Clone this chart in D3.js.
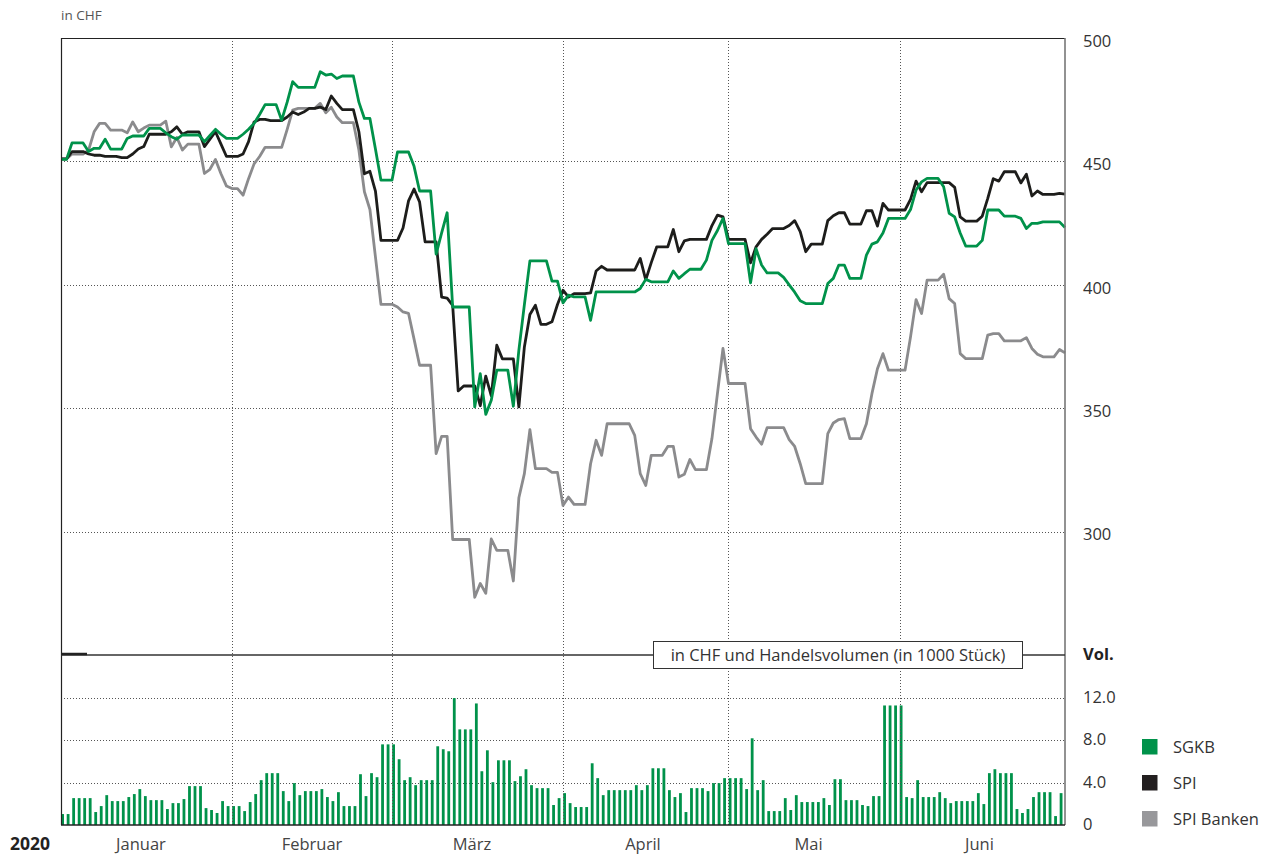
<!DOCTYPE html>
<html>
<head>
<meta charset="utf-8">
<script src="https://cdn.jsdelivr.net/npm/d3@7"></script>
<style>
  body { margin: 0; background: #fff; }
  text { font-family: "Open Sans", "Noto Sans", sans-serif; }
</style>
</head>
<body>
<div id="chart"></div>
<script>
// daily values, 1 Jan 2020 onwards
var startDate = new Date(2020, 0, 1);

var sgkb = [
  450.8,450.8,457.5,457.5,457.5,454,455.3,455.3,459,455,
  455,455,459.3,460.3,460.3,460.3,463.4,463.4,463.4,461.6,
  460,459,460.7,460.7,460.7,460.7,458,460.5,463,461,
  459.3,459.3,459.3,461,463,465.4,469,473,473,473,
  466.7,474,482.3,480,480,480,480,486.3,485,485.4,
  483.6,484.6,484.6,484.6,474,467.4,467.4,455,442.4,442.4,
  442.4,453.8,453.8,453.8,448,438,438,438,412.4,421,
  429.2,391,391,391,391,350.5,364,347.5,353.2,365.4,
  365.4,365.4,350.8,373.5,392,409.7,409.7,409.7,409.7,401.5,
  401.5,392.7,395.8,395.1,395.1,395.1,385.6,397.1,397.1,397.1,
  397.1,397.1,397.1,397.1,397.1,398.5,402.2,401.2,401.2,401.2,
  401.2,405.6,402.6,404.5,406.3,406.3,406.3,410,418,422,
  426.9,416.7,416.7,416.7,416.7,400.8,414.6,408,404.8,404.8,
  404.8,403,400,397,393.5,392.4,392.4,392.4,392.4,400.5,
  402.6,408,408,402.6,402.6,402.6,412,416.5,417.4,421,
  426.9,426.9,426.9,426.9,430.5,438.4,441.7,443.1,443.1,443.1,
  439.7,429,427.5,421,415.7,415.7,415.7,418,430.3,430.3,
  430.3,427.8,427.8,427.8,426.9,422.8,424.9,424.9,425.5,425.5,
  425.5,425.5,423.2
];

var spi = [
  451,451,454,454,454,453,452.5,452.5,452,452,
  452,451.5,451.5,453,455,456,461,461,461,461,
  462,464,461,462,462,462,456,459,462,457,
  452,452,452,453,458,466,467,467,466.5,466.5,
  466.5,468,470,469,470,471.5,471.5,472,471,476.5,
  473.5,471,471,471,462,445,446,438,418,418,
  418,418,423,434,438.8,433.6,417.4,417.4,417.4,395,
  394.6,391.7,357,359,359,359,351,363,355,375.5,
  370,370,370,350.5,374.8,388,391.7,384,384,385,
  392,397.8,395,396.4,396.4,396.4,396.7,405.6,407.5,406,
  406,406,406,406,406,410.7,402,409,415.4,415.4,
  415.4,422.4,413.4,417.8,418.4,418.4,418.4,418.4,424,428.2,
  427.5,418.4,418.4,418.4,418.4,408.9,415.4,418.4,420.5,422.8,
  422.8,422.8,424,426,421.5,413.4,416.5,416.5,416.5,426,
  428,429.2,429.2,424.6,424.6,424.6,430,430,423.8,433,
  430.3,430.3,430.3,430.3,434.6,442,437.7,441.4,441.4,441.4,
  441.4,441.4,439.5,427.5,425.8,425.8,425.8,427.8,435,443,
  442,445.8,445.8,445.8,441.3,444.8,436,438,436.6,436.6,
  436.6,437,436.7
];

var spiBanken = [
  451,451,453,453,453,454.6,462,465.4,465.4,462.7,
  462.7,462.7,461.6,466,462,463.5,464.7,464.7,464.7,466.3,
  455.9,459.7,454.6,457,457,457,445.1,446.8,450.8,445,
  440,439,439,436.3,443,449,452,455.7,455.7,455.7,
  455.7,463,470.8,471.5,471.5,471.5,471.5,473.5,469.7,471.9,
  468,465.7,465.7,465.7,454.6,437.7,430.5,411.3,392.1,392.1,
  392.1,391,389,388.4,378,367.4,367.4,367.4,331.6,338.6,
  338.6,296.8,296.8,296.8,296.8,273.4,279,275,297,292.4,
  292.4,292.4,280,313.7,323.5,341.3,325.5,325.5,325.5,324,
  324,310.6,314,311,311,311,327.5,337,330.9,343.7,
  343.7,343.7,343.7,343.7,339,323.5,318.7,330.9,330.9,330.9,
  334.5,334.5,322.1,323.2,329.2,325.1,325.1,325.1,337.7,356,
  374.2,360,360,360,360,341.7,338.3,335.4,342.1,342.1,
  342.1,342.1,337.3,334.5,327.5,319.4,319.4,319.4,319.4,339.7,
  344,345.4,345.8,337.7,337.7,337.7,343.7,355.9,366,372.1,
  365.4,365.4,365.4,365.4,378.9,394,388.4,401.9,401.9,401.9,
  404.3,394.4,392.4,372.1,370.1,370.1,370.1,370.1,379.6,380.2,
  380.2,377.3,377.3,377.3,377.3,378.6,374.2,371.9,370.8,370.8,
  370.8,373.8,372.4
];

// SGKB Handelsvolumen (in 1000 Stück)
var volume = [
  1.03,1.03,2.53,2.53,2.53,2.53,1.22,1.78,2.81,2.25,
  2.25,2.25,2.63,2.91,3.38,2.72,2.34,2.34,2.34,1.5,
  2.06,2.06,2.44,3.66,3.66,3.66,1.59,1.41,1.13,2.25,
  1.78,1.78,1.78,1.31,2.16,2.91,4.22,4.88,4.88,4.88,
  3.19,2.25,3.94,2.81,3.19,3.19,3.19,3.38,2.63,2.25,
  3.09,1.78,1.78,1.78,4.78,2.72,4.88,4.5,7.59,7.59,
  7.59,6.19,4.22,4.5,3.75,4.22,4.22,4.22,7.41,7.13,
  6.94,11.94,9.0,9.0,9.0,11.44,5.06,7.03,4.03,6.09,
  6.09,6.09,4.13,4.59,5.25,3.75,3.47,3.47,3.47,1.88,
  2.53,3.0,2.06,1.69,1.69,1.69,5.81,4.41,2.81,3.28,
  3.28,3.28,3.28,3.28,3.75,3.28,3.75,5.34,5.34,5.34,
  3.28,2.63,3.0,1.22,3.47,3.47,3.47,3.19,3.94,3.94,
  4.41,4.41,4.41,4.41,3.38,8.16,3.28,4.22,1.31,1.31,
  1.31,2.53,1.41,2.81,2.16,2.16,2.16,2.16,2.53,1.88,
  4.31,4.31,2.34,2.34,2.34,1.88,1.78,2.72,2.72,11.25,
  11.25,11.25,11.25,2.63,2.53,4.22,2.63,2.63,2.63,3.09,
  2.53,2.06,2.25,2.25,2.25,2.25,3.0,1.97,4.88,5.25,
  4.88,4.88,4.88,1.5,1.13,1.5,2.63,3.09,3.09,3.09,
  0.84,3.0
];

var monthLabels = ["Januar", "Februar", "März", "April", "Mai", "Juni"];
var priceTicks = [300, 350, 400, 450, 500];
var volTicks = [0, 4, 8, 12];
var seriesNames = ["SGKB", "SPI", "SPI Banken"];
var seriesColors = ["#00924a", "#1d1d1b", "#8b8b8d"];
var legendColors = ["#00924a", "#231f20", "#98989b"];

var svgWidth = 1261;
var svgHeight = 854;

var plotLeft = 61, plotRight = 1065, plotTop = 38, plotSplit = 655, plotBottom = 825;

var svg = d3.select("#chart")
  .append("svg")
  .attr("width", svgWidth)
  .attr("height", svgHeight);

// scales
var x = d3.scaleTime()
  .domain([startDate, new Date(2020, 6, 1)])
  .range([plotLeft, plotRight]);
var y = d3.scaleLinear().domain([250, 500]).range([plotSplit, plotTop]);
var yVol = d3.scaleLinear().domain([0, 16]).range([plotBottom, plotSplit]);

function day(i) { return d3.timeDay.offset(startDate, i); }

// horizontal grid
svg.append("g")
  .selectAll("line")
  .data(priceTicks.filter(d => d < 500))
  .enter().append("line")
  .attr("x1", plotLeft).attr("x2", plotRight)
  .attr("y1", d => Math.round(y(d)) + 0.5).attr("y2", d => Math.round(y(d)) + 0.5)
  .attr("stroke", "#555").attr("stroke-width", 1)
  .attr("stroke-dasharray", "1,2");

svg.append("g")
  .selectAll("line")
  .data(volTicks.filter(d => d > 0))
  .enter().append("line")
  .attr("x1", plotLeft).attr("x2", plotRight)
  .attr("y1", d => Math.round(yVol(d)) + 0.5).attr("y2", d => Math.round(yVol(d)) + 0.5)
  .attr("stroke", "#555").attr("stroke-width", 1)
  .attr("stroke-dasharray", "1,2");

// volume bars
svg.append("g")
  .selectAll("rect")
  .data(volume)
  .enter().append("rect")
  .attr("x", (d, i) => x(day(i)) + 0.2)
  .attr("width", 2.8)
  .attr("y", d => yVol(d))
  .attr("height", d => yVol(0) - yVol(d))
  .attr("fill", "#00924a");

// month grid (over the bars, like the original)
var months = d3.timeMonth.range(startDate, new Date(2020, 6, 1));
svg.append("g")
  .selectAll("line")
  .data(months.slice(1))
  .enter().append("line")
  .attr("x1", d => Math.round(x(d)) + 0.5).attr("x2", d => Math.round(x(d)) + 0.5)
  .attr("y1", plotTop).attr("y2", plotBottom)
  .attr("stroke", "#555").attr("stroke-width", 1)
  .attr("stroke-dasharray", "1,2");

// lines
var line = d3.line()
  .x((d, i) => x(day(i)))
  .y(d => y(d));

[spiBanken, spi, sgkb].forEach(function(series, k) {
  svg.append("path")
    .datum(series)
    .attr("fill", "none")
    .attr("stroke", seriesColors[2 - k])
    .attr("stroke-width", 2.8)
    .attr("stroke-linejoin", "round")
    .attr("d", line);
});

// frame
svg.append("line").attr("x1", plotLeft).attr("x2", plotRight).attr("y1", plotTop + 0.5).attr("y2", plotTop + 0.5)
  .attr("stroke", "#222").attr("stroke-width", 1.2);
svg.append("line").attr("x1", plotLeft + 0.5).attr("x2", plotLeft + 0.5).attr("y1", plotTop).attr("y2", plotBottom)
  .attr("stroke", "#222").attr("stroke-width", 1.2);
svg.append("line").attr("x1", plotRight).attr("x2", plotRight).attr("y1", plotTop).attr("y2", plotBottom)
  .attr("stroke", "#777").attr("stroke-width", 1.6);
svg.append("line").attr("x1", plotLeft).attr("x2", plotRight).attr("y1", plotBottom).attr("y2", plotBottom)
  .attr("stroke", "#222").attr("stroke-width", 1.5);
svg.append("line").attr("x1", plotLeft).attr("x2", plotRight).attr("y1", plotSplit).attr("y2", plotSplit)
  .attr("stroke", "#333").attr("stroke-width", 1.5);
svg.append("line").attr("x1", plotLeft).attr("x2", 87).attr("y1", plotSplit - 1).attr("y2", plotSplit - 1)
  .attr("stroke", "#222").attr("stroke-width", 2.5);

// panel caption box
var cap = svg.append("g");
cap.append("rect")
  .attr("x", 653.5).attr("y", 641.5).attr("width", 369).attr("height", 27)
  .attr("fill", "#fff").attr("stroke", "#333").attr("stroke-width", 1);
cap.append("text")
  .attr("x", 838).attr("y", 661)
  .attr("text-anchor", "middle")
  .style("font-size", "16.5px").style("fill", "#333")
  .text("in CHF und Handelsvolumen (in 1000 Stück)");

// right axes
var priceAxis = d3.axisRight(y).tickValues(priceTicks).tickSize(0).tickPadding(18)
  .tickFormat(d3.format("d"));
var gp = svg.append("g").attr("transform", "translate(" + plotRight + ",0)").call(priceAxis);
gp.select(".domain").remove();
gp.selectAll("text").attr("dy", "0.5em")
  .style("font-size", "16.5px").style("fill", "#333")
  .style("font-family", "'Open Sans', 'Noto Sans', sans-serif");

var volAxis = d3.axisRight(yVol).tickValues(volTicks).tickSize(0).tickPadding(18)
  .tickFormat(d => d === 0 ? "0" : d3.format(".1f")(d));
var gv = svg.append("g").attr("transform", "translate(" + plotRight + ",0)").call(volAxis);
gv.select(".domain").remove();
gv.selectAll("text").attr("dy", "0.3em")
  .style("font-size", "16.5px").style("fill", "#333")
  .style("font-family", "'Open Sans', 'Noto Sans', sans-serif");

svg.append("text")
  .attr("x", plotRight + 18).attr("y", plotSplit).attr("dy", "0.32em")
  .style("font-size", "16.5px").style("font-weight", "bold").style("fill", "#222")
  .text("Vol.");

// month labels, centred around the middle of each month
svg.append("g")
  .selectAll("text")
  .data(months)
  .enter().append("text")
  .attr("x", d => x(new Date(d.getFullYear(), d.getMonth(), 15, 12)))
  .attr("y", 850)
  .attr("text-anchor", "middle")
  .style("font-size", "16.5px").style("fill", "#444")
  .text((d, i) => monthLabels[i]);

svg.append("text")
  .attr("x", 10).attr("y", 850)
  .style("font-size", "17.5px").style("font-weight", "bold").style("fill", "#222")
  .text("2020");

svg.append("text")
  .attr("x", 61).attr("y", 20)
  .style("font-size", "13.5px").style("fill", "#555")
  .text("in CHF");

// legend
var legend = svg.append("g")
  .selectAll("g")
  .data(seriesNames)
  .enter().append("g")
  .attr("transform", (d, i) => "translate(1142," + (739 + i * 36) + ")");
legend.append("rect")
  .attr("width", 15.5).attr("height", 15.5)
  .attr("fill", (d, i) => legendColors[i]);
legend.append("text")
  .attr("x", 31).attr("y", 8).attr("dy", "0.35em")
  .style("font-size", "16.5px").style("fill", "#333")
  .text(d => d);
</script>
</body>
</html>
